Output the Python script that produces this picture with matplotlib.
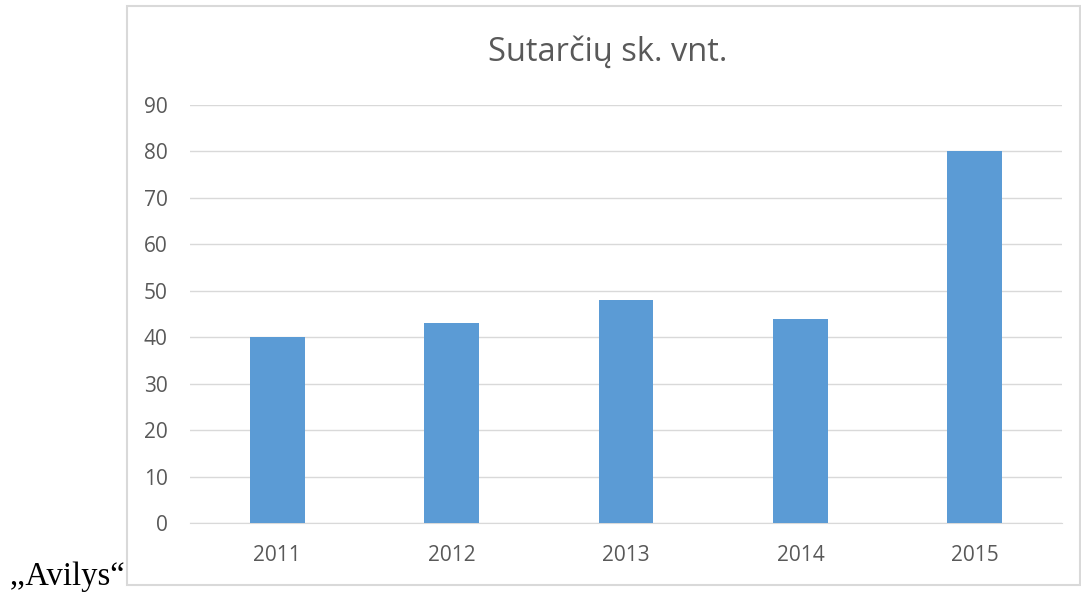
import matplotlib
matplotlib.use("Agg")
import matplotlib.pyplot as plt
from matplotlib.patches import Rectangle

years = ["2011", "2012", "2013", "2014", "2015"]
values = [40, 43, 48, 44, 80]
yticks = [0, 10, 20, 30, 40, 50, 60, 70, 80, 90]
title = "Sutarčių sk. vnt."
caption = ",,Avilys“"

W, H = 1081, 597
fig = plt.figure(figsize=(W / 100, H / 100), dpi=100)

# chart frame
fig.patches.append(Rectangle((127 / W, 1 - 585 / H), (1080 - 127) / W, (585 - 6) / H,
                             transform=fig.transFigure, fill=False,
                             edgecolor="#d9d9d9", linewidth=1.5))

ax = fig.add_axes([190 / W, 1 - 523 / H, (1062 - 190) / W, (523 - 105) / H])
x = range(len(years))
ax.bar(x, values, width=0.315, color="#5b9bd5", zorder=3)
ax.set_xlim(-0.5, len(years) - 0.5)
ax.set_ylim(0, 90)
ax.set_yticks(yticks)
ax.set_xticks(list(x))
ax.set_xticklabels(years)
ax.grid(axis="y", color="#d9d9d9", linewidth=1, zorder=0)
for s in ["top", "right", "left"]:
    ax.spines[s].set_visible(False)
ax.spines["bottom"].set_color("#d9d9d9")
ax.tick_params(axis="both", length=0, colors="#595959", labelsize=15)
ax.tick_params(axis="y", pad=16)
ax.tick_params(axis="x", pad=16)
for lbl in ax.get_xticklabels() + ax.get_yticklabels():
    lbl.set_fontfamily("Open Sans")

fig.text(608 / W, 1 - 52 / H, title, ha="center", va="center",
         fontsize=23.5, color="#595959", family="Open Sans")
fig.text(10 / W, 1 - 585 / H, caption, ha="left", va="baseline",
         fontsize=23.5, color="black", family="Liberation Serif")

fig.savefig("out.png", dpi=100)
